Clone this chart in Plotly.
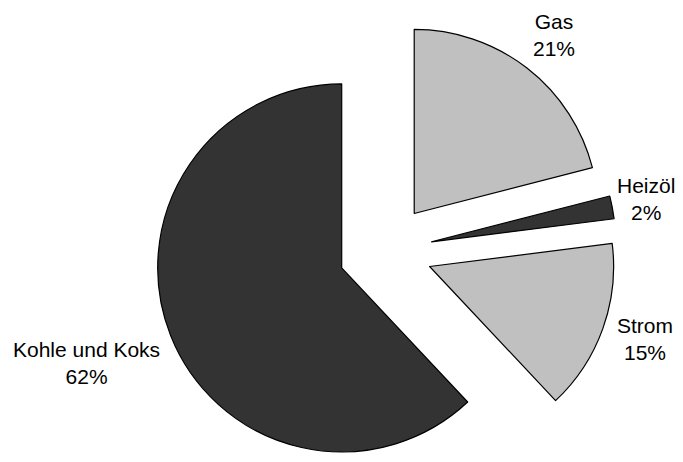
import math
import plotly.graph_objects as go

# ---- data ----
categories = ["Gas", "Heizöl", "Strom", "Kohle und Koks"]
shares = [21, 2, 15, 62]          # percent
slice_colors = ["#C0C0C0", "#333333", "#C0C0C0", "#333333"]

# ---- layout constants (window pixels) ----
OFF = 8                 # default page margin around the plot div
W, H = 683 - 2 * OFF, 462 - 2 * OFF   # keep the page free of scrollbars
CX, CY = 385.4, 250.6   # centre of the un-exploded pie
R = 184                 # pie radius
PULL = 47               # explosion distance for every slice
# label centres (window pixels), one per category
label_xy = [(553.5, 34.5), (645.5, 199.0), (644.5, 339.0), (86.5, 362.5)]
FONT = dict(family="Liberation Sans, Arial, sans-serif", size=21, color="black")

total = sum(shares)
fig = go.Figure()
cum = 0
for i, (cat, val) in enumerate(zip(categories, shares)):
    mid = (cum + val / 2) / total * 2 * math.pi
    cum += val
    cx = CX + PULL * math.sin(mid) - OFF
    cy = CY - PULL * math.cos(mid) - OFF
    dom_x = [max(0, (cx - R) / W), min(1, (cx + R) / W)]
    dom_y = [max(0, 1 - (cy + R) / H), min(1, 1 - (cy - R) / H)]
    colors = ["rgba(0,0,0,0)"] * len(shares)
    colors[i] = slice_colors[i]
    widths = [0] * len(shares)
    widths[i] = 1.2
    fig.add_trace(go.Pie(
        labels=categories,
        values=shares,
        sort=False,
        direction="clockwise",
        rotation=0,
        domain=dict(x=dom_x, y=dom_y),
        marker=dict(colors=colors, line=dict(color="black", width=widths)),
        textinfo="none",
        hoverinfo="skip",
        showlegend=False,
    ))

annotations = []
for cat, val, (lx, ly) in zip(categories, shares, label_xy):
    annotations.append(dict(
        text=f"{cat}<br>{val}%",
        x=(lx - OFF) / W, y=1 - (ly - OFF) / H,
        xref="paper", yref="paper",
        xanchor="center", yanchor="middle", align="center",
        showarrow=False, font=FONT,
    ))

fig.update_layout(
    width=W, height=H,
    margin=dict(l=0, r=0, t=0, b=0),
    paper_bgcolor="white",
    plot_bgcolor="white",
    showlegend=False,
    annotations=annotations,
)
fig.write_html("out.html")
